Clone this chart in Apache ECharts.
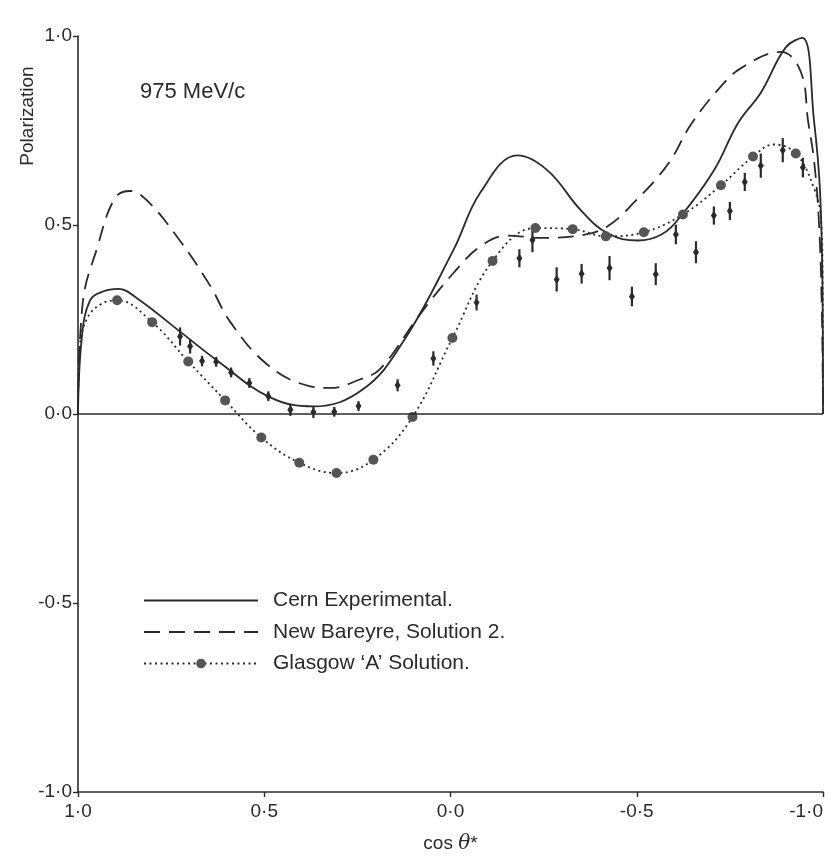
<!DOCTYPE html>
<html>
<head>
<meta charset="utf-8">
<script src="https://cdn.jsdelivr.net/npm/echarts@6/dist/echarts.min.js"></script>
<style>
  html, body { margin: 0; padding: 0; background: #fff; }
  #chart { width: 831px; height: 858px; }
</style>
</head>
<body>
<div id="chart"></div>
<script>
// cos theta* (x) and polarization (y)
var cernX = [1.0, 0.99, 0.968, 0.933, 0.892, 0.84, 0.726, 0.626, 0.484, 0.368, 0.234, 0.126, -0.008, -0.081, -0.18, -0.261, -0.349, -0.422, -0.503, -0.565, -0.618, -0.707, -0.772, -0.833, -0.9, -0.945, -0.976, -0.992, -0.999, -1.0];
var cernY = [0, 0.20, 0.30, 0.324, 0.331, 0.305, 0.218, 0.141, 0.044, 0.020, 0.066, 0.193, 0.434, 0.587, 0.684, 0.644, 0.540, 0.478, 0.459, 0.474, 0.523, 0.644, 0.770, 0.85, 0.97, 0.995, 0.775, 0.59, 0.30, 0];

var bareyreX = [1.0, 0.987, 0.949, 0.901, 0.86, 0.815, 0.734, 0.645, 0.591, 0.492, 0.384, 0.323, 0.242, 0.188, 0.081, -0.008, -0.081, -0.153, -0.242, -0.358, -0.422, -0.492, -0.583, -0.645, -0.72, -0.78, -0.887, -0.94, -0.96, -0.976, -0.989, -0.997, -1.0];
var bareyreY = [0, 0.297, 0.438, 0.571, 0.590, 0.565, 0.469, 0.339, 0.243, 0.131, 0.075, 0.069, 0.092, 0.120, 0.265, 0.373, 0.444, 0.472, 0.466, 0.474, 0.497, 0.559, 0.660, 0.765, 0.86, 0.915, 0.958, 0.906, 0.775, 0.67, 0.51, 0.27, 0];

// Glasgow 'A': circles plus extra points along the dotted curve
var glasgowCircleX = [0.895, 0.801, 0.704, 0.605, 0.508, 0.406, 0.306, 0.207, 0.102, -0.005, -0.113, -0.228, -0.328, -0.417, -0.519, -0.624, -0.726, -0.812, -0.927];
var glasgowCircleY = [0.301, 0.243, 0.139, 0.036, -0.062, -0.129, -0.156, -0.121, -0.008, 0.201, 0.405, 0.492, 0.489, 0.470, 0.481, 0.528, 0.605, 0.681, 0.689];
var glasgowCurveX = [1.0, 0.995, 0.976, 0.941, -0.868, -0.976, -0.995, -0.999, -1.0];
var glasgowCurveY = [0, 0.18, 0.252, 0.289, 0.713, 0.597, 0.51, 0.35, 0];

// experimental points: x, y, half error
var expX = [0.726, 0.699, 0.667, 0.629, 0.589, 0.540, 0.489, 0.430, 0.368, 0.312, 0.247, 0.142, 0.046, -0.070, -0.185, -0.220, -0.285, -0.352, -0.427, -0.487, -0.551, -0.605, -0.659, -0.707, -0.750, -0.790, -0.833, -0.892, -0.946];
var expY = [0.205, 0.179, 0.140, 0.138, 0.110, 0.082, 0.047, 0.011, 0.005, 0.006, 0.021, 0.076, 0.147, 0.295, 0.412, 0.46, 0.356, 0.371, 0.386, 0.311, 0.370, 0.475, 0.428, 0.525, 0.537, 0.614, 0.657, 0.698, 0.652];
var expErr = [0.024, 0.019, 0.014, 0.013, 0.013, 0.013, 0.013, 0.016, 0.016, 0.013, 0.013, 0.016, 0.019, 0.021, 0.024, 0.032, 0.032, 0.026, 0.032, 0.026, 0.029, 0.026, 0.029, 0.024, 0.024, 0.024, 0.032, 0.032, 0.026];

var xTicks = [-1, -0.5, 0, 0.5, 1];
var yTicks = [-1, -0.5, 0, 0.5, 1];

var FONT = "'Liberation Sans', Arial, sans-serif";
var INK = '#2a2a2a';

function pairs(xs, ys) {
  return xs.map(function (x, i) { return [x, ys[i]]; });
}
function dotLabel(v) {
  return v.toFixed(1).replace('.', '\u00b7');
}

var glasgowData = [];
glasgowCircleX.forEach(function (x, i) {
  glasgowData.push({ value: [x, glasgowCircleY[i]], symbol: 'circle' });
});
glasgowCurveX.forEach(function (x, i) {
  glasgowData.push({ value: [x, glasgowCurveY[i]], symbol: 'none' });
});
glasgowData.sort(function (a, b) { return b.value[0] - a.value[0]; });

var expData = expX.map(function (x, i) { return [x, expY[i], expErr[i]]; });

var chart = echarts.init(document.getElementById('chart'));
chart.setOption({
  backgroundColor: '#fff',
  animation: false,
  textStyle: { fontFamily: FONT },
  title: {
    text: '975 MeV/c',
    left: 140,
    top: 81,
    padding: 0,
    textStyle: { fontFamily: FONT, fontSize: 22, fontWeight: 'normal', color: INK }
  },
  graphic: [{
    type: 'text',
    x: 28,
    y: 116,
    rotation: Math.PI / 2,
    style: {
      text: 'Polarization',
      font: '19px ' + FONT,
      fill: INK,
      align: 'center',
      verticalAlign: 'middle'
    }
  }],
  legend: {
    orient: 'vertical',
    left: 143,
    top: 590,
    padding: 0,
    itemWidth: 114,
    itemHeight: 12,
    itemGap: 10.5,
    data: [
      { name: 'Cern Experimental.', itemStyle: { opacity: 0 } },
      { name: 'New Bareyre, Solution 2.', itemStyle: { opacity: 0 } },
      { name: "Glasgow \u2018A\u2019 Solution." }
    ],
    textStyle: { fontFamily: FONT, fontSize: 21, color: INK, padding: [0, 0, 0, 10] }
  },
  grid: { left: 78, right: 8, top: 36, bottom: 66, outerBoundsMode: 'none' },
  xAxis: {
    type: 'value',
    inverse: true,
    min: -1,
    max: 1,
    interval: 0.5,
    name: '{n|cos }{t|\u03b8}{n|*}',
    nameLocation: 'middle',
    nameGap: 42,
    nameTextStyle: {
      rich: {
        n: { fontFamily: FONT, fontSize: 19, color: INK },
        t: { fontFamily: 'DejaVu Serif, serif', fontStyle: 'italic', fontSize: 20, color: INK }
      }
    },
    axisLine: { onZero: false, lineStyle: { color: INK, width: 1.6 } },
    axisTick: { length: 5, lineStyle: { color: INK, width: 1.4 } },
    axisLabel: {
      margin: 10,
      fontSize: 19,
      color: INK,
      alignMinLabel: 'right',
      formatter: function (v) { return xTicks.indexOf(v) >= 0 ? dotLabel(v) : ''; }
    },
    splitLine: { show: false }
  },
  yAxis: {
    type: 'value',
    min: -1,
    max: 1,
    interval: 0.5,
    axisLine: { show: true, onZero: false, lineStyle: { color: INK, width: 1.6 } },
    axisTick: { show: true, length: 5, lineStyle: { color: INK, width: 1.4 } },
    axisLabel: {
      margin: 6,
      fontSize: 19,
      color: INK,
      formatter: function (v) { return yTicks.indexOf(v) >= 0 ? dotLabel(v) : ''; }
    },
    splitLine: { show: false }
  },
  series: [
    {
      name: 'Cern Experimental.',
      type: 'line',
      data: pairs(cernX, cernY),
      smooth: 0.4,
      showSymbol: false,
      symbol: 'none',
      lineStyle: { color: INK, width: 1.8, type: 'solid' },
      itemStyle: { color: INK },
      markLine: {
        silent: true,
        symbol: 'none',
        label: { show: false },
        lineStyle: { color: INK, width: 1.6, type: 'solid' },
        data: [{ yAxis: 0 }]
      }
    },
    {
      name: 'New Bareyre, Solution 2.',
      type: 'line',
      data: pairs(bareyreX, bareyreY),
      smooth: 0.4,
      showSymbol: false,
      symbol: 'none',
      lineStyle: { color: INK, width: 1.8, type: [16, 9] },
      itemStyle: { color: INK }
    },
    {
      name: "Glasgow \u2018A\u2019 Solution.",
      type: 'line',
      data: glasgowData,
      smooth: 0.4,
      symbol: 'circle',
      symbolSize: 10,
      lineStyle: { color: INK, width: 1.8, type: [2, 3.5] },
      itemStyle: { color: '#555' }
    },
    {
      name: 'exp',
      type: 'custom',
      data: expData,
      encode: { x: 0, y: 1 },
      renderItem: function (params, api) {
        var x = api.value(0), y = api.value(1), e = api.value(2);
        var top = api.coord([x, y + e]);
        var bot = api.coord([x, y - e]);
        var c = api.coord([x, y]);
        return {
          type: 'group',
          children: [
            { type: 'line', shape: { x1: top[0], y1: top[1], x2: bot[0], y2: bot[1] }, style: { stroke: INK, lineWidth: 2.2 } },
            { type: 'polygon', shape: { points: [[c[0], c[1] - 4.5], [c[0] + 3, c[1]], [c[0], c[1] + 4.5], [c[0] - 3, c[1]]] }, style: { fill: INK } }
          ]
        };
      }
    }
  ]
});
</script>
</body>
</html>
